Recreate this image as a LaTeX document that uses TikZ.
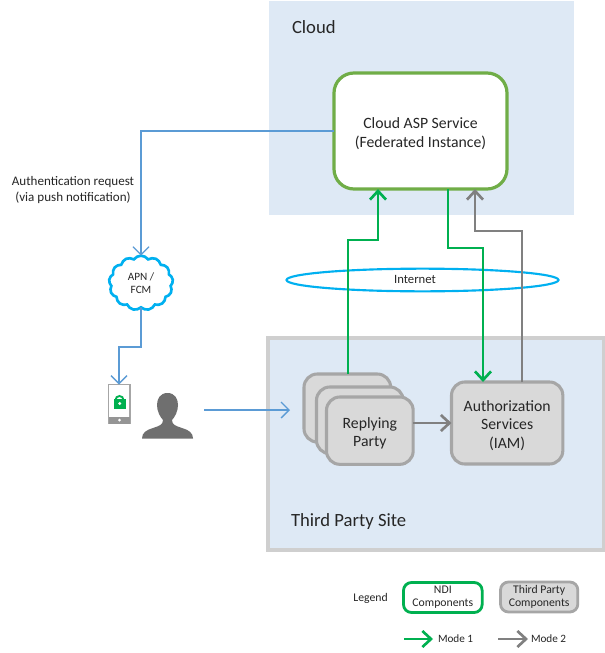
\documentclass[tikz,border=0pt]{standalone}
\usepackage{fontspec}
\setmainfont{Carlito}
\usetikzlibrary{arrows.meta,shapes.symbols,shapes.geometric}
\definecolor{zonefill}{HTML}{DEE9F5}
\definecolor{zoneedge}{HTML}{CFCFCF}
\definecolor{ndigreen}{HTML}{00B050}
\definecolor{aspgreen}{HTML}{70AD47}
\definecolor{modegray}{HTML}{808080}
\definecolor{boxgray}{HTML}{D9D9D9}
\definecolor{boxedge}{HTML}{A6A6A6}
\definecolor{linkblue}{HTML}{5B9BD5}
\definecolor{netblue}{HTML}{00B0F0}
\definecolor{txt}{HTML}{262626}
\definecolor{persongray}{HTML}{6F6F6F}
\newcommand\dnstrut{\rule{0pt}{12pt}}
\tikzset{
  x=0.75pt,y=-0.75pt,
  every node/.style={outer sep=0pt,inner sep=0pt,text=txt,align=center},
  compbox/.style={draw=boxedge,fill=boxgray,line width=2.3pt,rounded corners=10pt,anchor=north west},
  legbox/.style={line width=2.1pt,rounded corners=6pt,anchor=north west},
  modeone/.style={draw=ndigreen,line width=2.2pt,-{Straight Barb[length=6.5pt,width=12pt,line width=2pt]}},
  modetwo/.style={draw=modegray,line width=2.2pt,-{Straight Barb[length=6.5pt,width=12pt,line width=2pt]}},
  bluelink/.style={draw=linkblue,line width=1.2pt,-{Straight Barb[length=6pt,width=12pt,line width=1pt]}},
  small/.style={font=\fontsize{9.8pt}{11.4pt}\selectfont},
  mid/.style={font=\fontsize{11.8pt}{13.9pt}\selectfont},
  big/.style={font=\fontsize{14pt}{16pt}\selectfont},
  legendtxt/.style={font=\fontsize{8.8pt}{9.8pt}\selectfont},
  modetxt/.style={font=\fontsize{8.4pt}{10pt}\selectfont},
}
\begin{document}
\begin{tikzpicture}
\useasboundingbox (0,0) rectangle (605,653);
\fill[white] (0,0) rectangle (605,653);
% zones
\node[anchor=north west,draw=white,fill=zonefill,line width=1pt,minimum width=230pt,minimum height=162pt] (cloudzone) at (268,0) {};
\node[anchor=north west,draw=zoneedge,fill=zonefill,line width=3pt,minimum width=252pt,minimum height=159pt] (sitezone) at (267.5,337.5) {};
\node[anchor=west,big] (cloudlbl) at (292,27) {Cloud};
\node[anchor=west,big] (sitelbl) at (291,522) {Third Party Site};
% main boxes
\node[anchor=north west,draw=aspgreen,fill=white,line width=2.4pt,rounded corners=15pt,minimum width=129.75pt,minimum height=87pt,mid] (asp) at (334,73) {\dnstrut Cloud ASP Service\\(Federated Instance)};
\node[compbox,minimum width=65pt,minimum height=51pt] (rpback) at (304,374) {};
\node[compbox,minimum width=65pt,minimum height=50pt] (rpmid) at (316.5,387) {};
\node[compbox,minimum width=65pt,minimum height=50.5pt,mid] (rp) at (326.5,397) {\dnstrut Replying\\Party};
\node[compbox,minimum width=83.5pt,minimum height=61.5pt,mid] (iam) at (451.5,382) {\dnstrut Authorization\\Services\\(IAM)};
% internet
\node[ellipse,draw=netblue,line width=1.6pt,minimum width=204pt,minimum height=17pt] (net) at (422.5,280) {};
% flows
\draw[modeone] (348,0 |- rpback.north) -- (348,240) -- (378,240) -- (378,0 |- asp.south);
\draw[modeone] (448,0 |- asp.south) -- (448,248) -- (483,248) -- (483,0 |- iam.north);
\draw[modetwo] (522,0 |- iam.north) -- (522,231) -- (475,231) -- (475,0 |- asp.south);
\draw[modetwo] (rp.east |- 0,423) -- (iam.west |- 0,423);
\node[anchor=center,font=\fontsize{9.5pt}{10pt}\selectfont] (netlbl) at (415,279) {Internet};
% cloud
\node[cloud,cloud puffs=13,cloud puff arc=110,aspect=1.25,draw=netblue,fill=white,line width=2pt,minimum width=48pt,minimum height=41pt,font=\fontsize{8.4pt}{10pt}\selectfont] (apn) at (141,283) {APN /\\FCM};
% phone
\node[anchor=north west,draw=boxedge,fill=white,line width=1pt,minimum width=16pt,minimum height=29pt] (phone) at (108.5,384.5) {};
\fill[boxedge!90!black] (108.5,417) rectangle (130,423.5);
\fill[white] (119.5,420) circle[radius=1.5];
\draw[ndigreen,line width=1.4pt] (115.5,400) arc[start angle=180,end angle=360,radius=4];
\fill[ndigreen] (113.5,399) rectangle (126,409);
\fill[white] (119.7,403.5) circle[radius=1.6];
% person
\node[anchor=north west,minimum width=38pt,minimum height=34pt] (person) at (142,393) {};
\fill[persongray] (167.5,393) .. controls (175,393) and (178,399) .. (178,405) .. controls (178,411) and (175,417) .. (172,420) .. controls (172,425) and (176,426) .. (182,428) .. controls (189,430) and (193,433) .. (193,438.5) -- (142,438.5) .. controls (142,433) and (146,430) .. (153,428) .. controls (159,426) and (163,425) .. (163,420) .. controls (160,417) and (157,411) .. (157,405) .. controls (157,399) and (160,393) .. (167.5,393) -- cycle;
% blue links
\node[anchor=center,small] (authreq) at (73,190) {Authentication request\\(via push notification)};
\draw[bluelink] (asp.west |- 0,131) -- (141,131) -- (apn.north);
\draw[bluelink] (apn.south) -- (141,347) -- (119,347) -- (119,0 |- phone.north);
\coordinate (personout) at (204,410);
\coordinate (rpin) at (290,410);
\draw[bluelink] (personout) -- (rpin);
% legend
\node[anchor=center,legendtxt] (leg) at (370.5,598.5) {Legend};
\node[legbox,draw=ndigreen,fill=white,minimum width=59pt,minimum height=22.5pt,legendtxt] (legndi) at (403.5,582.5) {NDI\\Components};
\node[legbox,draw=boxedge,fill=boxgray,minimum width=58pt,minimum height=22.5pt,legendtxt] (legtp) at (500.5,582) {Third Party\\Components};
\coordinate (m1s) at (404,639);
\coordinate (m1e) at (433,639);
\coordinate (m2s) at (498,639);
\coordinate (m2e) at (528,639);
\draw[modeone] (m1s) -- (m1e);
\draw[modetwo] (m2s) -- (m2e);
\node[anchor=west,modetxt] (m1) at (438,639) {Mode 1};
\node[anchor=west,modetxt] (m2) at (531,639) {Mode 2};
\end{tikzpicture}
\end{document}
